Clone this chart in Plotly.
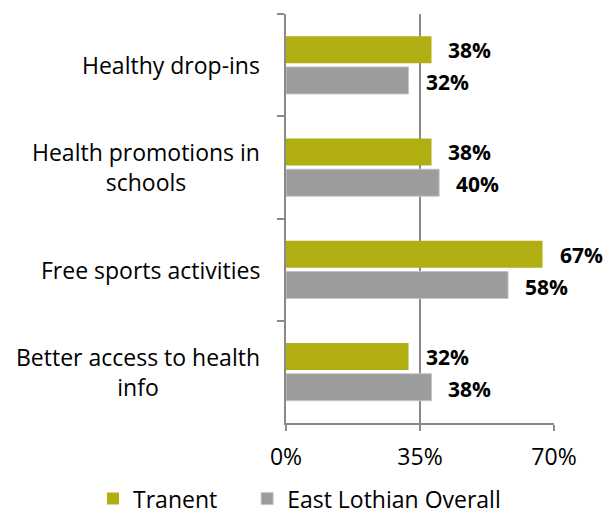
import plotly.graph_objects as go

categories = ["Healthy drop-ins", "Health promotions in<br>schools",
              "Free sports activities", "Better access to health<br>info"]
tranent = [38, 38, 67, 32]
east_lothian = [32, 40, 58, 38]
x_ticks = [0, 35, 70]
x_tick_labels = ["0%", "35%", "70%"]

FONT = "Open Sans"
TEXT_SIZE = 23
OLIVE = "#b0ae10"
GREY = "#9c9c9c"
AXIS = "#8a8a8a"

fig = go.Figure()
fig.add_trace(go.Bar(y=categories, x=tranent, orientation="h", name="Tranent",
                     marker=dict(color=OLIVE, line=dict(width=0)), legend="legend"))
fig.add_trace(go.Bar(y=categories, x=east_lothian, orientation="h",
                     name="East Lothian Overall",
                     marker=dict(color=GREY, line=dict(color="#c4c4c4", width=1)),
                     legend="legend2"))

annotations = []
# value labels beside each bar
for values, shift in ((tranent, 15), (east_lothian, -17)):
    for cat, v in zip(categories, values):
        annotations.append(dict(x=v, y=cat, xref="x", yref="y", text=f"<b>{v}%</b>",
                                showarrow=False, xanchor="left", yanchor="middle",
                                xshift=15, yshift=shift,
                                font=dict(family=FONT, size=21, color="black")))
# category labels, centred line by line
for cat in categories:
    annotations.append(dict(x=0, y=cat, xref="paper", yref="y", text=cat,
                            showarrow=False, xanchor="right", yanchor="middle",
                            align="center", xshift=-24,
                            font=dict(family=FONT, size=TEXT_SIZE, color="black")))

legend_style = dict(orientation="h", y=-0.185, xanchor="left", yanchor="middle",
                    font=dict(family=FONT, size=TEXT_SIZE, color="black"),
                    itemwidth=30, bgcolor="rgba(0,0,0,0)")

fig.update_layout(
    width=612, height=514,
    margin=dict(l=286, r=58, t=14, b=91, autoexpand=False),
    paper_bgcolor="white", plot_bgcolor="white",
    barmode="group", bargap=0.4, bargroupgap=0.12,
    font=dict(family=FONT, size=TEXT_SIZE, color="black"),
    showlegend=True,
    legend=dict(x=-0.72, **legend_style),
    legend2=dict(x=-0.145, **legend_style),
    annotations=annotations,
)
fig.update_xaxes(range=[0, 70], tickvals=x_ticks, ticktext=x_tick_labels,
                 showgrid=True, gridcolor=AXIS, gridwidth=1.5,
                 zeroline=False, showline=True, linecolor=AXIS, linewidth=1.5,
                 ticks="outside", ticklen=6, tickcolor=AXIS, tickwidth=1.5,
                 ticklabelstandoff=7, fixedrange=True)
fig.update_yaxes(autorange="reversed", showticklabels=False, showgrid=False,
                 showline=True, linecolor=AXIS, linewidth=1.5,
                 ticks="outside", ticklen=7, tickcolor=AXIS, tickwidth=1.5,
                 tickson="boundaries", fixedrange=True)

fig.write_html("out.html")
